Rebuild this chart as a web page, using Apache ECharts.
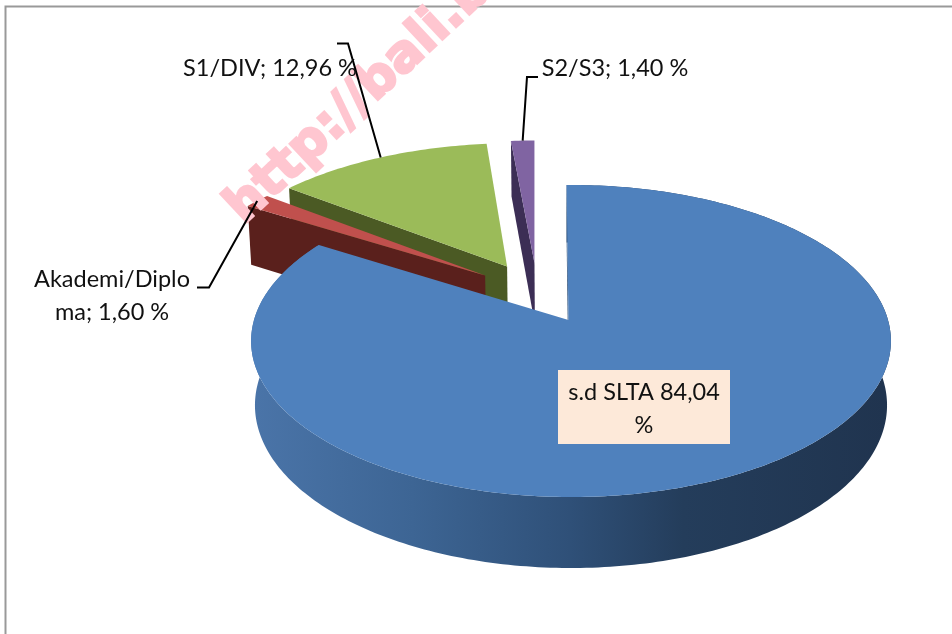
<!DOCTYPE html>
<html>
<head>
<meta charset="utf-8">
<style>html,body{margin:0;padding:0;background:#fff}#main{width:952px;height:634px}</style>
<script src="https://cdn.jsdelivr.net/npm/echarts@6/dist/echarts.min.js"></script>
</head>
<body>
<div id="main"></div>
<script>
// data
const categories = ['s.d SLTA', 'Akademi/Diploma', 'S1/DIV', 'S2/S3']
const values = [84.04, 1.60, 12.96, 1.40]
const labelTexts = ['s.d SLTA 84,04\n%', 'Akademi/Diplo\nma; 1,60 %', 'S1/DIV; 12,96 %', 'S2/S3; 1,40 %']
const topColors = ['#4f81bd', '#c0504d', '#9bbb59', '#8064a2']
const sideColors = ['#2f5078', '#5a201c', '#4b5a24', '#3c2e55']

// projection of the flat pie to the tilted view (a little perspective)
const cx = 571, ay = 320, R = 317
const k = 153.2, p = 0.1346, depth = 64.4, q = 0.012
const explode = 0.21
const startAngle = -0.9 * Math.PI / 180
const total = values.reduce((a, b) => a + b, 0)

function project(u, v, z) {
    const w = 1 - p * v + q * z
    return [cx + R * u / w, ay + (k * v + depth * z) / w]
}

// start / end / middle angle of each slice, clockwise from the top
const angles = []
let acc = 0
values.forEach(val => {
    const a0 = startAngle + acc / total * Math.PI * 2
    acc += val
    const a1 = startAngle + acc / total * Math.PI * 2
    angles.push({ a0, a1, mid: (a0 + a1) / 2 })
})
// the big slice stays at the origin, the others move with the explosion
const base = [-explode * Math.sin(angles[0].mid) - 0.005, explode * Math.cos(angles[0].mid)]

function offsetOf(i) {
    const m = angles[i].mid
    // big slice: only a small nudge of its tip
    if (i === 0) return [-0.008, 0]
    return [base[0] + explode * Math.sin(m), base[1] - explode * Math.cos(m)]
}

function rimPoint(i, a, z) {
    const o = i === 0 ? [0, 0] : offsetOf(i)
    return project(o[0] + Math.sin(a), o[1] - Math.cos(a), z)
}

function arcPoints(i, z) {
    const a = angles[i]
    const n = Math.max(6, Math.round((a.a1 - a.a0) * 60))
    const pts = []
    for (let s = 0; s <= n; s++) pts.push(rimPoint(i, a.a0 + (a.a1 - a.a0) * s / n, z))
    return pts
}

const blueWall = {
    type: 'linear', global: true, x: 255, y: 0, x2: 885, y2: 0,
    colorStops: [
        { offset: 0, color: '#4a74a8' },
        { offset: 0.25, color: '#3d6594' },
        { offset: 0.5, color: '#2f5078' },
        { offset: 0.68, color: '#243d5b' },
        { offset: 1, color: '#20344f' }
    ]
}

function renderSlice(params, api) {
    const i = api.value(0)
    const o = offsetOf(i)
    const top = arcPoints(i, 0)
    const low = arcPoints(i, 1)
    const apexTop = project(o[0], o[1], 0)
    const apexLow = project(o[0], o[1], 1)
    const children = []
    // only the big slice shows its outer wall, the others look away from us
    if (i === 0) {
        children.push({ type: 'polygon', shape: { points: top.concat(low.slice().reverse()) }, style: { fill: blueWall } })
    }
    children.push({ type: 'polygon', shape: { points: [top[0], low[0], apexLow, apexTop] }, style: { fill: sideColors[i] } })
    children.push({ type: 'polygon', shape: { points: [apexTop].concat(top) }, style: { fill: topColors[i] } })
    return { type: 'group', children }
}

// leader lines start on the rim at the middle of the slice
function leader(i, elbow, end) {
    const start = rimPoint(i, angles[i].mid, 0)
    return {
        type: 'polyline', z: 5,
        shape: { points: [start, elbow, end] },
        style: { fill: null, stroke: '#000', lineWidth: 2 }
    }
}

const labelFont = { fontFamily: 'Lato', fontSize: 23.5, fill: '#111', align: 'center', lineHeight: 33 }

const option = {
    backgroundColor: '#fff',
    animation: false,
    series: [{
        type: 'custom',
        coordinateSystem: 'none',
        renderItem: renderSlice,
        // painted from the back to the front
        data: [3, 2, 1, 0].map(i => ({ name: categories[i], value: [i, values[i]] })),
        silent: true,
        z: 2
    }],
    graphic: [
        // frame
        { type: 'polyline', z: 1, shape: { points: [[5.5, 634], [5.5, 6.5], [952, 6.5]] }, style: { fill: null, stroke: '#999', lineWidth: 2 } },
        // watermark
        { type: 'text', z: 4, x: 252, y: 234, rotation: 43 * Math.PI / 180, style: { text: 'http://bali.bps.go.id', fontFamily: 'DejaVu Sans', fontWeight: 'bold', fontSize: 51, fill: '#ffc6d0', stroke: '#ffc6d0', lineWidth: 2.5, align: 'left', verticalAlign: 'bottom' } },
        leader(2, [348, 43.5], [337, 43.5]),
        leader(1, [209, 287.5], [197, 287.5]),
        leader(3, [527, 77], [538, 77]),
        { type: 'rect', z: 5, shape: { x: 558, y: 370, width: 172, height: 74 }, style: { fill: '#fde9d9' } },
        { type: 'text', z: 6, x: 644, y: 376, style: Object.assign({ text: labelTexts[0] }, labelFont) },
        { type: 'text', z: 6, x: 112, y: 263, style: Object.assign({ text: labelTexts[1] }, labelFont) },
        { type: 'text', z: 6, x: 270, y: 52, style: Object.assign({ text: labelTexts[2] }, labelFont) },
        { type: 'text', z: 6, x: 615, y: 52, style: Object.assign({ text: labelTexts[3] }, labelFont) }
    ]
}

const chart = echarts.init(document.getElementById('main'))
chart.setOption(option)
</script>
</body>
</html>
